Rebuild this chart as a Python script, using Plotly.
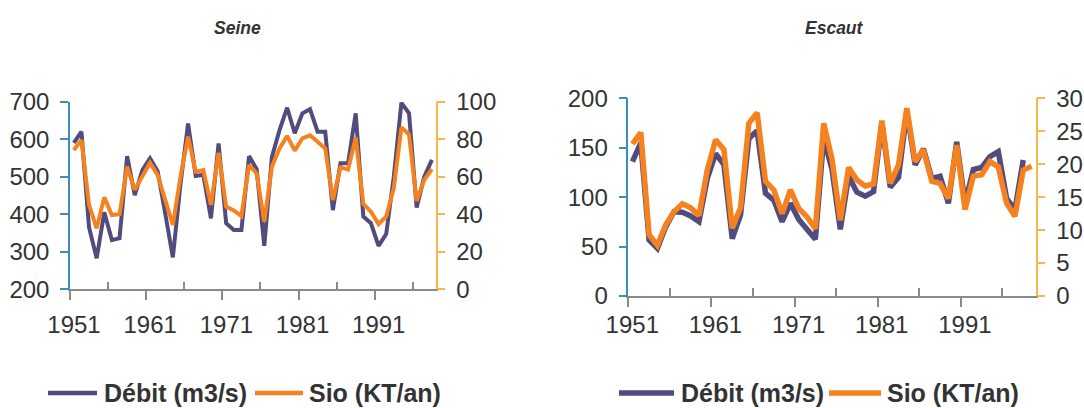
import plotly.graph_objects as go

W, H = 1084, 408

# ---------------- data ----------------
seine_years = list(range(1951, 1999))          # 48 categories
seine_debit = [590, 620, 365, 283, 405, 331, 336, 555, 451, 518,
               549, 515, 402, 285, 480, 642, 502, 505, 389, 589,
               376, 358, 358, 555, 520, 316, 553, 624, 684, 616,
               669, 680, 620, 620, 411, 536, 536, 669, 394, 376,
               316, 347, 500, 697, 669, 418, 500, 545]
seine_sio = [74.2, 79.6, 45, 32.5, 49, 39.6, 40, 65.4, 53, 60,
             67.5, 61, 47.6, 34.3, 60, 81.4, 62.7, 63.5, 45, 72.8,
             44, 42, 39, 66.2, 61.8, 36, 65.4, 75.1, 81.7, 73.9,
             80.5, 82.1, 78.7, 75.1, 47.6, 65, 63.9, 81, 45.5, 41.4,
             34.8, 38.7, 54, 86.3, 82.5, 47, 58.3, 64]

escaut_years_debit = list(range(1951, 1999))   # 48 values
escaut_years_sio = list(range(1951, 2000))     # 49 values
escaut_debit = [136, 155, 56.7, 48.2, 70, 85.3, 84.7, 81, 75.2, 119,
                144, 133, 58, 82, 159.5, 167, 104, 97, 75.2, 93.8,
                77.5, 68, 57.4, 160, 128, 67.5, 121, 105, 101, 105.6,
                175, 110, 120, 186.6, 132.6, 149, 119, 121, 93.8, 156,
                94, 128, 130, 141, 146, 98.8, 87, 137.6]
escaut_sio = [23.1, 24.8, 9.3, 7.7, 10.8, 12.8, 14.0, 13.4, 12.2, 19.1,
              23.7, 22.2, 10.3, 13.4, 26.2, 27.8, 17.4, 16.1, 12.5, 16.1,
              13.3, 12.0, 10.2, 26.2, 20.8, 11.5, 19.5, 17.6, 16.7, 17.0,
              26.6, 17.1, 19.9, 28.5, 20.4, 22.2, 17.4, 17.1, 14.8, 22.9,
              13.1, 18.2, 18.4, 20.4, 19.6, 14.1, 12.1, 19.1, 19.7]

label_years = [1951, 1961, 1971, 1981, 1991]
titles = ["Seine", "Escaut"]
series_names = ["Débit (m3/s)", "Sio (KT/an)"]

# ---------------- style ----------------
PURPLE = "#524C7E"
ORANGE = "#F5821F"
LEFT_AX = "#3D8EC0"
RIGHT_AX = "#F8B748"
GRAY = "#8A8A8A"
TXT = "#333333"
FONT = "Liberation Sans"

fig = go.Figure()

fig.add_trace(go.Scatter(x=seine_years, y=seine_debit, name=series_names[0],
                         mode="lines", line=dict(color=PURPLE, width=4),
                         xaxis="x", yaxis="y", showlegend=False))
fig.add_trace(go.Scatter(x=seine_years, y=seine_sio, name=series_names[1],
                         mode="lines", line=dict(color=ORANGE, width=4),
                         xaxis="x", yaxis="y2", showlegend=False))
fig.add_trace(go.Scatter(x=escaut_years_debit, y=escaut_debit, name=series_names[0],
                         mode="lines", line=dict(color=PURPLE, width=5.5),
                         xaxis="x2", yaxis="y3", showlegend=False))
fig.add_trace(go.Scatter(x=escaut_years_sio, y=escaut_sio, name=series_names[1],
                         mode="lines", line=dict(color=ORANGE, width=5.5),
                         xaxis="x2", yaxis="y4", showlegend=False))


def xaxis_cfg(dom, last_year, standoff):
    majors = [y - 0.5 for y in label_years]
    minors = [y + 5 - 0.5 for y in label_years if y + 5 - 0.5 < last_year + 0.5]
    return dict(domain=dom, range=[1950.5, last_year + 0.5], automargin=False,
                tickmode="array", tickvals=majors,
                ticktext=[str(y) for y in label_years],
                ticks="outside", ticklen=9, tickwidth=1.5, tickcolor=GRAY,
                ticklabelshift=4, ticklabelstandoff=standoff,
                minor=dict(tickmode="array", tickvals=minors, ticks="inside",
                           ticklen=8, tickwidth=1.5, tickcolor=GRAY),
                showline=True, linecolor=GRAY, linewidth=1.5,
                showgrid=False, zeroline=False,
                tickfont=dict(family=FONT, size=24, color=TXT))


def yaxis_cfg(dom, rng, dtick, side, color, anchor, overlay=None):
    d = dict(domain=dom, range=rng, dtick=dtick, tick0=0, side=side,
             anchor=anchor, automargin=False,
             ticks="outside", ticklen=8, tickwidth=1.5,
             tickcolor=color, showline=True, linecolor=color, linewidth=1.5,
             showgrid=False, zeroline=False, ticklabelstandoff=6,
             tickfont=dict(family=FONT, size=24, color=TXT))
    if overlay:
        d["overlaying"] = overlay
    return d


sx = [70 / W, 435.7 / W]
sy = [1 - 289.3 / H, 1 - 101.7 / H]
ex = [628.3 / W, 1035.7 / W]
ey = [1 - 296 / H, 1 - 98.3 / H]

# ----- hand-drawn legends (long sample lines like the original) -----
LEG_Y = 1 - 393 / H
legend_items = [
    # (line start px, line end px, text start px, colour, label, width)
    (48, 97, 102, PURPLE, series_names[0], 4.5),
    (255, 303, 307, ORANGE, series_names[1], 4.5),
    (619, 674, 679, PURPLE, series_names[0], 5.5),
    (829, 881, 885, ORANGE, series_names[1], 5.5),
]
shapes = []
annotations = []
for x0, x1, xt, col, label, lw in legend_items:
    shapes.append(dict(type="line", xref="paper", yref="paper",
                       x0=x0 / W, x1=x1 / W, y0=LEG_Y, y1=LEG_Y,
                       line=dict(color=col, width=lw)))
    annotations.append(dict(text=label, x=xt / W, y=LEG_Y, xref="paper", yref="paper",
                            showarrow=False, xanchor="left", yanchor="middle",
                            font=dict(family=FONT, size=25, color=TXT, weight="bold")))

for t, xc in zip(titles, [237, 835]):
    annotations.append(dict(text=t, x=xc / W, y=1 - 28 / H, xref="paper", yref="paper",
                            showarrow=False, xanchor="center", yanchor="middle",
                            font=dict(family=FONT, size=17.5, color=TXT,
                                      weight="bold", style="italic")))

fig.update_layout(
    width=W, height=H,
    margin=dict(l=0, r=0, t=0, b=0, autoexpand=False),
    paper_bgcolor="white", plot_bgcolor="white",
    xaxis=xaxis_cfg(sx, 1998, 4) | dict(anchor="y"),
    yaxis=yaxis_cfg(sy, [200, 700], 100, "left", LEFT_AX, "x"),
    yaxis2=yaxis_cfg(sy, [0, 100], 20, "right", RIGHT_AX, "x", overlay="y"),
    xaxis2=xaxis_cfg(ex, 1999, -3) | dict(anchor="y3"),
    yaxis3=yaxis_cfg(ey, [0, 200], 50, "left", LEFT_AX, "x2"),
    yaxis4=yaxis_cfg(ey, [0, 30], 5, "right", RIGHT_AX, "x2", overlay="y3"),
    showlegend=False,
    shapes=shapes,
    annotations=annotations,
)

fig.write_html("out.html",
               config={"displayModeBar": False},
               post_script="document.body.style.margin='0px';"
                           "document.body.style.overflow='hidden';")
